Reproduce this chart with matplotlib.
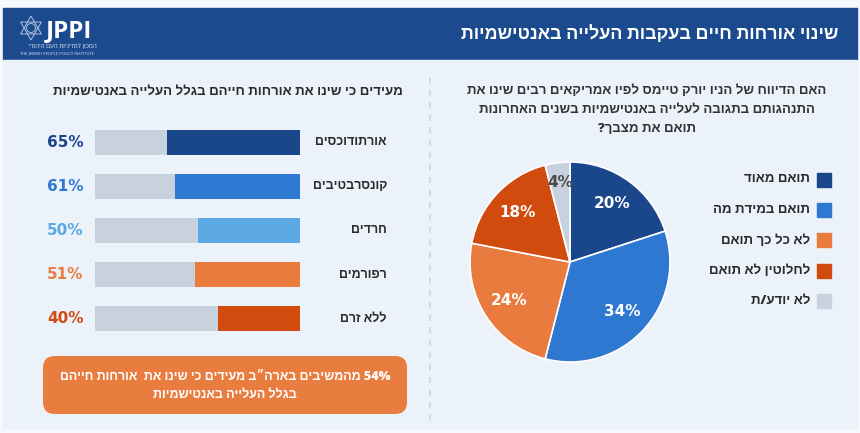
import matplotlib
matplotlib.use("Agg")
import matplotlib.pyplot as plt
from matplotlib.patches import Rectangle, FancyBboxPatch, Polygon

plt.rcParams["font.family"] = ["Open Sans", "Liberation Sans", "DejaVu Sans"]

# ---- data ----
groups = ["אורתודוכסים", "קונסרבטיבים", "חרדים", "רפורמים", "ללא זרם"]
group_pct = [65, 61, 50, 51, 40]
group_colors = ["#1a468c", "#2e78d2", "#5ca8e4", "#e97b3e", "#d14a0e"]

pie_labels = ["תואם מאוד", "תואם במידת מה", "לא כל כך תואם", "לחלוטין לא תואם", "לא יודע/ת"]
pie_values = [20, 34, 24, 18, 4]
pie_colors = ["#1a468c", "#2e78d2", "#e97b3e", "#d14a0e", "#c8d2de"]

title = "שינוי אורחות חיים בעקבות העלייה באנטישמיות"
bar_title = "מעידים כי שינו את אורחות חייהם בגלל העלייה באנטישמיות"
pie_title = ["האם הדיווח של הניו יורק טיימס לפיו אמריקאים רבים שינו את",
             "התנהגותם בתגובה לעלייה באנטישמיות בשנים האחרונות",
             "תואם את מצבך?"]
callout = ["54% מהמשיבים בארה״ב מעידים כי שינו את  אורחות חייהם",
           "בגלל העלייה באנטישמיות"]

W, H = 860, 433
NAVY = "#1b4a8f"
PANEL = "#ebf2fa"
DARK = "#2a2a2a"
HW = "heavy"


def rtl(s):
    # matplotlib has no bidi: put words in visual order by hand
    out = []
    for w in reversed(s.split(" ")):
        out.append(w if any(c.isdigit() for c in w) else w[::-1])
    return " ".join(out)


fig = plt.figure(figsize=(W / 100, H / 100), dpi=100, facecolor="#f7f8fd")

# background canvas in pixel coordinates
bg = fig.add_axes([0, 0, 1, 1])
bg.set_xlim(0, W)
bg.set_ylim(H, 0)
bg.axis("off")
bg.add_patch(Rectangle((3, 8), 854, 52, color=NAVY, zorder=0))
bg.add_patch(Rectangle((3, 60), 854, 368, color=PANEL, zorder=0))
bg.plot([430, 430], [77, 423], color="#d3dae4", lw=1.5, ls=(0, (3, 3)))

bg.text(838, 34, rtl(title), color="white", fontsize=13, fontweight=HW,
        ha="right", va="center")

# logo
cx, cy, r = 31, 28, 12
up = [(cx, cy - r), (cx + r * 0.866, cy + r * 0.5), (cx - r * 0.866, cy + r * 0.5)]
dn = [(cx, cy + r), (cx + r * 0.866, cy - r * 0.5), (cx - r * 0.866, cy - r * 0.5)]
for tri in (up, dn):
    bg.add_patch(Polygon(tri, closed=True, fill=False, ec="#c9d4e8", lw=0.6))
bg.add_patch(plt.Circle((cx, cy), 4.5, fill=False, ec="#c9d4e8", lw=0.6))
bg.text(46, 37.5, "JPPI", color="white", fontsize=17.5, fontweight="bold",
        ha="left", va="baseline")
bg.text(97, 46.5, rtl("המכון למדיניות העם היהודי"), color="#dfe6f2", fontsize=4.6,
        ha="right", va="center")
bg.text(20, 53, "THE JEWISH PEOPLE POLICY INSTITUTE", color="#dfe6f2", fontsize=3,
        ha="left", va="center")

# left block titles / callout
bg.text(403, 92, rtl(bar_title), color=DARK, fontsize=9.5, fontweight=HW,
        ha="right", va="center")
bg.add_patch(FancyBboxPatch((43, 356), 364, 58, boxstyle="round,pad=0,rounding_size=12",
                            fc="#e97c3f", ec="none"))
bg.text(225, 377, rtl(callout[0]), color="white", fontsize=9, fontweight=HW,
        ha="center", va="center")
bg.text(225, 395, rtl(callout[1]), color="white", fontsize=9, fontweight=HW,
        ha="center", va="center")

# pie title
for i, line in enumerate(pie_title):
    bg.text(647, 91 + i * 19, rtl(line), color="#333333", fontsize=9.5,
            fontweight=HW, ha="center", va="center")

# legend
for i, (lab, col) in enumerate(zip(pie_labels, pie_colors)):
    y = 179.5 + i * 30.4
    bg.add_patch(Rectangle((817, y - 7), 14, 14, color=col))
    bg.text(810, y, rtl(lab), color=DARK, fontsize=9.5, fontweight=HW,
            ha="right", va="center")

# ---- bar chart ----
top, rowh = 120.5, 44
ax = fig.add_axes([95 / W, 1 - (top + rowh * 5) / H, 205 / W, rowh * 5 / H])
ypos = list(range(len(groups)))
ax.barh(ypos, [100] * len(groups), height=25 / rowh, color="#c8d2de")
ax.barh(ypos, group_pct, left=[100 - v for v in group_pct], height=25 / rowh,
        color=group_colors)
ax.set_xlim(0, 100)
ax.set_ylim(len(groups) - 0.5, -0.5)
ax.axis("off")
for i, (g, v, c) in enumerate(zip(groups, group_pct, group_colors)):
    ax.text(-23.4, i, f"{v}%", color=c, fontsize=11, fontweight="bold",
            ha="left", va="center", family=["DejaVu Sans"], clip_on=False)
    ax.text(142.4, i, rtl(g), color=DARK, fontsize=9, fontweight=HW,
            ha="right", va="center", clip_on=False)

# ---- pie ----
pcx, pcy, pr = 570, 262, 100
pax = fig.add_axes([(pcx - pr) / W, 1 - (pcy + pr) / H, 2 * pr / W, 2 * pr / H])
wedges, texts, autos = pax.pie(pie_values, colors=pie_colors, startangle=90,
                               counterclock=False, autopct="%d%%", pctdistance=0.72,
                               wedgeprops=dict(edgecolor="white", linewidth=1.2))
for t in autos:
    t.set_color("white")
    t.set_fontsize(11)
    t.set_fontweight("bold")
    t.set_family(["DejaVu Sans"])
autos[-1].set_color("#4a4a4a")
x, y = autos[-1].get_position()
autos[-1].set_position((x * 1.11, y * 1.11))
pax.set_xlim(-1, 1)
pax.set_ylim(-1, 1)

fig.savefig("out.png", dpi=100, facecolor=fig.get_facecolor())
